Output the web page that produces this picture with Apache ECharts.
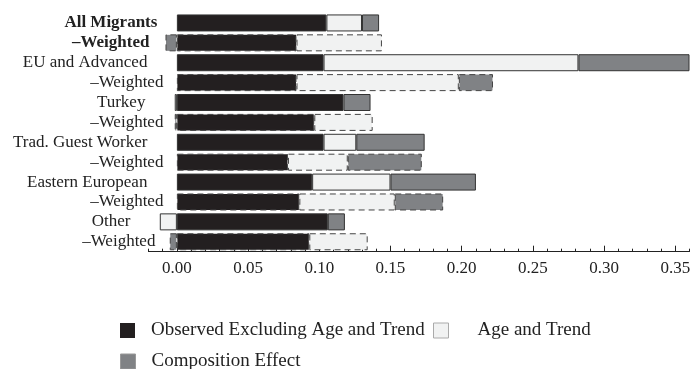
<!DOCTYPE html>
<html>
<head>
<meta charset="utf-8">
<script src="https://cdn.jsdelivr.net/npm/echarts@6/dist/echarts.min.js"></script>
<style>
html,body{margin:0;padding:0;background:#fff;}
#chart{width:699px;height:369px;}
</style>
</head>
<body>
<div id="chart"></div>
<script>
// ---- data ----
const categories = ['All Migrants', '–Weighted', 'EU and Advanced', '–Weighted', 'Turkey', '–Weighted',
  'Trad. Guest Worker', '–Weighted', 'Eastern European', '–Weighted', 'Other', '–Weighted'];
const observed = [0.105, 0.084, 0.103, 0.084, 0.117, 0.0965, 0.103, 0.078, 0.095, 0.086, 0.106, 0.093];
const ageTrend = [0.025, 0.060, 0.179, 0.114, -0.0015, 0.041, 0.023, 0.042, 0.055, 0.067, -0.012, 0.041];
const composition = [0.012, -0.008, 0.078, 0.024, 0.019, -0.0015, 0.048, 0.052, 0.060, 0.034, 0.012, -0.005];
const majorTicks = [0, 0.05, 0.10, 0.15, 0.20, 0.25, 0.30, 0.35];
const seriesNames = ['Observed Excluding Age and Trend', 'Age and Trend', 'Composition Effect'];

// ---- styling ----
const FONT = 'Liberation Serif';
const colors = ['#231f20', '#f1f2f2', '#808285'];
const labelPad = [6, 14, 16, 0, 18, 0, 16, 0, 16, 0, 33, 8];
const rich = {};
categories.forEach((c, i) => {
  rich['r' + i] = {
    fontFamily: FONT, fontSize: 17, color: '#222',
    fontWeight: i < 2 ? 'bold' : 'normal',
    padding: [0, labelPad[i], 0, 0]
  };
});

function makeData(arr) {
  return arr.map((v, i) => {
    const weighted = i % 2 === 1;
    return {
      value: v,
      itemStyle: weighted
        ? { borderType: [6, 4], borderColor: '#444', borderWidth: 1 }
        : { borderType: 'solid', borderColor: '#333', borderWidth: 1 }
    };
  });
}

const chart = echarts.init(document.getElementById('chart'), null, { renderer: 'canvas' });
const legendText = { fontFamily: FONT, fontSize: 19, color: '#222' };
const option = {
  animation: false,
  backgroundColor: '#fff',
  grid: { left: 148.4, right: 9.5, top: 13, bottom: 117.3 },
  xAxis: [
    {
      type: 'value', min: -0.02, max: 0.36, interval: 0.01, position: 'bottom',
      axisLine: { show: true, lineStyle: { color: '#222', width: 1 } },
      axisTick: { show: true, inside: true, length: 3, lineStyle: { color: '#222' } },
      axisLabel: {
        customValues: majorTicks,
        formatter: v => v.toFixed(2),
        fontFamily: FONT, fontSize: 17, color: '#222', margin: 8
      },
      splitLine: { show: false }
    },
    {
      type: 'value', min: -0.02, max: 0.36, position: 'bottom',
      axisLine: { show: false },
      axisTick: { show: true, inside: true, length: 6, customValues: majorTicks, lineStyle: { color: '#222' } },
      axisLabel: { show: false },
      splitLine: { show: false }
    }
  ],
  yAxis: {
    type: 'category', inverse: true, data: categories,
    axisLine: { show: false }, axisTick: { show: false },
    axisLabel: {
      margin: -15,
      formatter: (v, i) => '{r' + i + '|' + v + '}',
      rich: rich
    }
  },
  legend: [
    {
      left: 120, top: 321, padding: 0, itemWidth: 15, itemHeight: 15, icon: 'rect',
      data: [{ name: seriesNames[0], itemStyle: { borderWidth: 0 } }],
      textStyle: Object.assign({ padding: [0, 0, 0, 11] }, legendText)
    },
    {
      left: 433, top: 321, padding: 0, itemWidth: 15, itemHeight: 15, icon: 'rect',
      data: [{ name: seriesNames[1], itemStyle: { borderColor: '#aaa', borderWidth: 1 } }],
      textStyle: Object.assign({ padding: [0, 0, 0, 24] }, legendText)
    },
    {
      left: 120, top: 352, padding: 0, itemWidth: 15, itemHeight: 15, icon: 'rect',
      data: [{ name: seriesNames[2], itemStyle: { borderColor: '#999', borderWidth: 1 } }],
      textStyle: Object.assign({ padding: [0, 0, 0, 11] }, legendText)
    }
  ],
  series: [observed, ageTrend, composition].map((arr, k) => ({
    name: seriesNames[k],
    type: 'bar',
    stack: 'total',
    barWidth: 17,
    xAxisIndex: 0,
    itemStyle: { color: colors[k], borderColor: '#333', borderWidth: 1 },
    data: makeData(arr)
  }))
};
chart.setOption(option);
</script>
</body>
</html>
